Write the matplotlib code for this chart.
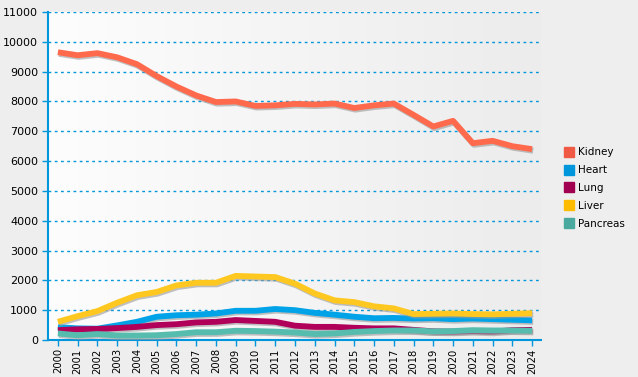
import matplotlib
matplotlib.use("Agg")
import matplotlib.pyplot as plt
import matplotlib.patheffects as pe
import numpy as np

years = [str(y) for y in range(2000, 2025)]

kidney = [9650, 9550, 9620, 9480, 9250, 8850, 8500, 8200, 7980, 8000, 7850, 7870, 7920,
          7900, 7930, 7780, 7870, 7930, 7550, 7160, 7350, 6600, 6680, 6500, 6400]
heart = [430, 390, 380, 490, 610, 780, 830, 850, 890, 980, 980, 1040, 1000,
         910, 850, 780, 730, 740, 720, 730, 700, 720, 700, 680, 660]
lung = [330, 360, 370, 400, 440, 500, 530, 590, 610, 670, 640, 610, 480,
        440, 440, 410, 390, 390, 340, 290, 280, 300, 280, 330, 340]
liver = [610, 800, 970, 1250, 1500, 1610, 1830, 1920, 1920, 2150, 2130, 2110, 1890,
         1560, 1330, 1270, 1130, 1060, 870, 880, 890, 870, 860, 880, 900]
pancreas = [220, 160, 200, 150, 150, 160, 200, 260, 260, 310, 300, 280, 250,
            200, 220, 270, 300, 320, 320, 290, 300, 330, 320, 320, 310]

series = [("Kidney", kidney, "#ff6a4d", "#f05a44"),
          ("Heart", heart, "#00a3e8", "#0096dc"),
          ("Lung", lung, "#b0005a", "#a0004f"),
          ("Liver", liver, "#ffc820", "#ffbb00"),
          ("Pancreas", pancreas, "#55bcae", "#4aa99e")]

blue = "#0096dc"

fig = plt.figure(figsize=(6.38, 3.77), dpi=100)
fig.patch.set_facecolor("#eeeeee")
ax = fig.add_axes([48 / 638, 1 - 340 / 377, 493 / 638, 328 / 377])

# gradient plot background
grad = np.linspace(0, 1, 256).reshape(1, -1)
ax.imshow(grad, extent=[0, 1, 0, 1], transform=ax.transAxes, aspect="auto",
          cmap=matplotlib.colors.LinearSegmentedColormap.from_list("bg", ["#fdfdfd", "#ececec"]),
          zorder=0)

x = np.arange(len(years))
for name, vals, lc, mc in series:
    ax.plot(x, vals, color=lc, lw=4.2, solid_capstyle="butt", solid_joinstyle="round", zorder=3,
            path_effects=[pe.SimpleLineShadow(offset=(0.8, -1.2), shadow_color="#999999", alpha=0.6),
                          pe.Normal()])
    ax.plot([], [], ls="none", marker="s", ms=7, color=mc, label=name)

ax.set_xlim(-0.5, 24.45)
ax.set_ylim(0, 11000)
ax.set_yticks(range(0, 11001, 1000))
ax.set_yticklabels([str(v) for v in range(0, 11001, 1000)])
ax.set_xticks(x)
ax.set_xticklabels(years, rotation=90)

ax.grid(axis="y", color=blue, ls=(0, (2, 2.5)), lw=1)
ax.set_axisbelow(True)
for s in ["top", "right"]:
    ax.spines[s].set_visible(False)
for s in ["left", "bottom"]:
    ax.spines[s].set_color(blue)
    ax.spines[s].set_linewidth(1.5)
ax.tick_params(colors=blue, labelcolor="black", labelsize=8, length=4, width=1)
ax.tick_params(axis="x", labelsize=7.2, pad=2)
ax.tick_params(axis="y", pad=3)

fig.legend(loc="center left", bbox_to_anchor=(554 / 638, 1 - 188 / 377), frameon=False,
           fontsize=7.5, handletextpad=0.4, labelspacing=0.75, handlelength=1.0)

fig.savefig("out.png", dpi=100, facecolor=fig.get_facecolor())
